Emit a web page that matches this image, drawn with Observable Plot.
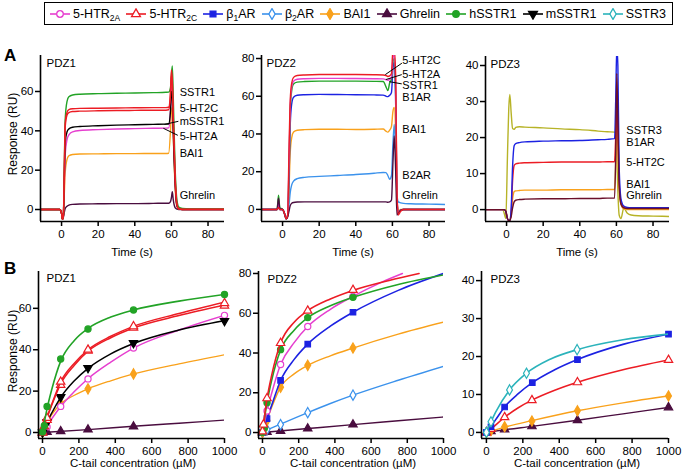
<!DOCTYPE html>
<html><head><meta charset="utf-8">
<script src="https://cdn.jsdelivr.net/npm/d3@7"></script>
<script src="https://cdn.jsdelivr.net/npm/@observablehq/plot@0.6"></script>
<style>
html,body{margin:0;padding:0;background:#fff;}
#root{position:relative;width:683px;height:475px;overflow:hidden;font-family:"Liberation Sans",Arial,Helvetica,sans-serif;color:#000;}
#root svg.panel{position:absolute;left:0;top:0;}
.lab{position:absolute;white-space:nowrap;line-height:1;transform:translate(-50%,-50%);}
.big{position:absolute;font-weight:bold;font-size:17px;line-height:1;}
#legend{position:absolute;left:44px;top:2px;width:629px;height:23px;box-sizing:border-box;border:1.5px solid #000;display:flex;align-items:center;justify-content:space-between;padding:0 6px 0 5px;font-size:12.5px;}
#legend .item{display:flex;align-items:center;white-space:nowrap;}
#legend svg{margin-right:3px;}
#legend sub{font-size:8.5px;vertical-align:-3px;line-height:0;}
</style></head><body><div id="root"><div id="legend"></div></div>
<script>
// ---------- series / legend ----------
const seriesMain = ["5-HTR","5-HTR","β","β","BAI1","Ghrelin","hSSTR1","mSSTR1","SSTR3"];
const seriesSub  = ["2A","2C","1","2","","","","",""];
const seriesTail = ["","","AR","AR","","","","",""];
const colors   = ["#e63fcf","#ec1c24","#1c22e2","#3b92ec","#f9a11b","#4a0d3f","#22a326","#000000","#2bb3bb"];
const symbols  = ["circle","triangle","square","diamond","diamond","triangle","circle","triangle","diamond"];
const filled   = [false,false,true,false,true,true,true,true,false];
const rotations= [0,0,0,0,0,0,0,180,0];
const sstr3SensorColor = "#b7b327";

// ---------- Panel A: sensorgrams (time s, response RU) ----------
const tA1 = [-11.5,-1,0,0.5,1,1.5,2,3,4,6,10,20,30,40,50,57,58.5,59.5,60,60.5,61,62,63,64,66,70,80,89];
const a1Green   = [0,0,-2,-5,-3,22,46,55,57.3,58.2,58.6,58.9,59.1,59.2,59.4,59.6,59.7,62,68,73,58,22,5,1.2,0.5,0.3,0.3,0.3];
const a1Red1    = [0,0,-2,-5,-3,20,44,49.5,50.8,51.2,51.4,51.5,51.6,51.7,51.8,51.8,52,60,71,66,48,18,3,0.5,0.2,0.2,0.2,0.2];
const a1Red2    = [0,0,-2,-5,-3,19,42,48,49.3,49.8,50,50.2,50.3,50.4,50.5,50.5,50.7,58,68,64,45,16,2.5,0.3,0,0,0,0];
const a1Black   = [0,0,-2,-5,-3,16,34,39.5,41,41.8,42.2,42.6,42.9,43.1,43.3,43.4,43.5,50,60,58,40,14,2,0.3,0,0,0,0];
const a1Magenta = [0,0,-2,-5,-3,12,28,35.5,38,39.5,40.2,40.6,40.9,41.1,41.3,41.4,41.5,50,62,60,42,15,2,0.3,0,0,0,0];
const a1Orange  = [0,0,-2,-5,-3,8,19,25.5,27.3,28,28.2,28.3,28.4,28.4,28.5,28.5,28.6,40,50,52,38,12,1.5,0.2,0,0,0,0];
const a1Ghrelin = [0,0,-2,-5,-4,-1.5,0.5,1.7,2.2,2.6,2.8,2.9,3,3,3.1,3.2,3.2,4,6,9,5,1,0.2,0,0,0,0,0];
const a1Labels  = [["SSTR1",59.3],["5-HT2C",51.4],["mSSTR1",45],["5-HT2A",37.3],["BAI1",28.4],["Ghrelin",7.3]];
const a1LabelT  = 64.5;
const a1Leaders = [[[63.6,44.8],[56.4,43.3]],[[63.3,37.8],[55.8,41.2]]];

const tA2 = [-11.5,-3,-2.2,-1.5,0,1,2,2.8,3.5,4.2,5,6,8,12,20,30,40,50,55,56.5,57.5,58.5,59.5,60.3,61,61.8,62.5,63.2,64.5,66,70,80,89];
const a2Red       = [0,0,1,0,0,-2,-5,-3,30,58,67,70,71,71.3,71.5,71.5,71.5,71.4,71.3,71,70.5,70.8,72,85,85,70,10,-3,-1,0,0,0,0];
const a2Magenta   = [0,0,3,0,0,-2,-5,-3,25,55,65,68,69,69.3,69.5,69.5,69.4,69.3,69.2,68.8,68.5,68.8,70,80,82,65,8,-2,-0.5,0,0,0,0];
const a2Green     = [0,0,7.5,1,0,-2,-5,-3,22,52,63,66.5,67.5,67.8,68,68,68,67.9,67.8,65,63,67,69,78,80,60,6,-2,-0.5,0,0,0,0];
const a2Blue      = [0,0,1,0,0,-2,-5,-3,15,45,56,59.5,60.5,60.8,61,60.9,60.8,60.7,60.6,60,59.8,60.5,62,75,78,55,5,-2,-0.5,0,0,0,0];
const a2Orange    = [0,0,1,0,0,-2,-5,-3,10,30,38,41,42,42.3,42.5,42.5,42.4,42.5,42.6,41.5,41,42,44,52,54,40,5,-1,0,0,0,0,0];
const a2LightBlue = [0,0,1,0,0,-2,-5,-3,2,9,13,15,16.3,17,17.5,18,18.5,19.2,19.6,19.5,18,16,18,35,45,30,8,4,3.5,3.2,3,2.8,2.6];
const a2Ghrelin   = [0,0,6,0.5,0,-2,-5,-4,-1,2,3.3,3.7,3.9,4,4,4,4,4,4,4,3.8,4,5,25,39,20,-3,-2,-0.5,0,0,0,0];
const a2Labels  = [["5-HT2C",78.8],["5-HT2A",71.7],["SSTR1",65.9],["B1AR",59.4],["BAI1",42.4],["B2AR",18.2],["Ghrelin",7.6]];
const a2LabelT  = 65.4;
const a2Leaders = [[[65.0,77.4],[56.3,71.6]],[[64.9,71.4],[56.6,68.9]],[[64.9,66.6],[58.5,67.7]]];

const tA3 = [-11.5,-2,-1.3,-0.4,0.5,1.2,1.8,2.5,3.3,4.2,5,7,10,20,30,40,50,55,59,59.6,60.2,60.8,61.5,62.5,64,66,68,72,80,89];
const a3Sstr3   = [0,0,-1,-2.5,15,28,32,27,22.5,22.3,22.8,23,22.9,22.7,22.4,22.2,21.8,21.6,21.5,21.4,15,5,-1.5,-2.5,0.4,-1,-1.5,-1.7,-1.8,-1.9];
const a3Blue    = [0,0,0,-0.5,-2.5,-3,-3,0,12,17.8,18.3,18.6,18.8,19,19.1,19.2,19.4,19.5,19.7,30,45,40,12,3,1,0.6,0.5,0.5,0.5,0.5];
const a3Red     = [0,0,0,-0.5,-2.5,-3,-3,-1,8,12.3,12.7,12.9,13,13.1,13.2,13.2,13.2,13.3,13.3,20,28,22,8,2,0.6,0.4,0.4,0.4,0.4,0.4];
const a3Orange  = [0,0,0,-0.5,-2.5,-3,-3,-1,3,5,5.2,5.3,5.4,5.4,5.5,5.5,5.5,5.6,5.6,12,25,18,6,1.5,0.2,0,0,0,0,0];
const a3Ghrelin = [0,0,0,-0.5,-2.5,-3,-3,-2,0.5,2.2,2.6,2.8,2.9,3,3,3.1,3.1,3.2,3.2,15,37.8,25,7,1.5,0.5,0.3,0.3,0.3,0.3,0.3];
const a3Labels  = [["SSTR3",22],["B1AR",18.6],["5-HT2C",13],["BAI1",7],["Ghrelin",3.8]];
const a3LabelT  = 65.4;

// ---------- Panel B: binding (C-tail µM, response RU) ----------
// measured points
const b1Green   = [[0,0.3],[10,3.3],[25,12.6],[100,35.5],[250,50],[500,59.2],[1000,66.7]];
const b1Red1    = [[0,0],[10,3],[25,7],[100,24.5],[250,40],[500,51.3],[1000,62.5]];
const b1Red2    = [[0,0],[25,6],[100,23],[250,39.5],[500,50.6],[1000,61.3]];
const b1Black   = [[0,0],[25,5],[100,17.1],[250,31.2],[500,43.2],[1000,53.9]];
const b1Magenta = [[0,0],[25,2.7],[100,12.6],[250,25.9],[500,40.8],[1000,56.6]];
const b1Orange  = [[0,0],[25,5],[100,13.9],[250,21.1],[500,28.3]];
const b1Ghrelin = [[0,0],[25,0.2],[100,0.6],[250,1.4],[500,2.9]];
// fitted curves as read
const f1Green   = [[0,0],[10,4.8],[25,11.5],[50,20.5],[100,34.5],[175,44.5],[250,50.3],[375,55.8],[500,59.2],[750,63.5],[1000,66.7]];
const f1Red1    = [[0,0],[25,7.5],[50,13.5],[100,24.5],[175,33.5],[250,40],[375,46.5],[500,51.3],[750,57.5],[1000,63]];
const f1Red2    = [[0,0],[25,7],[50,13],[100,23.5],[175,32.5],[250,39.3],[375,45.8],[500,50.5],[750,56.5],[1000,61.5]];
const f1Black   = [[0,0],[25,5],[50,9.3],[100,17],[175,25],[250,31],[375,38],[500,43],[750,49.5],[1000,54]];
const f1Magenta = [[0,0],[25,3.2],[50,6.5],[100,12.6],[175,19.8],[250,26],[375,34],[500,40.8],[750,49.5],[1000,56.6]];
const f1Orange  = [[0,0],[25,4.8],[50,8.5],[100,13.9],[175,18],[250,21.1],[375,25],[500,28.3],[750,33.2],[1000,37.6]];
const f1Ghrelin = [[0,0],[250,1.4],[500,3],[750,4.5],[1000,6]];

const b2Red       = [[0,0.5],[5,4],[25,17.2],[100,45],[250,61.3],[500,71.7]];
const b2Green     = [[0,0],[10,2],[25,15],[100,41.7],[250,57.8],[500,68]];
const b2Magenta   = [[0,0],[25,10.8],[100,34.2],[250,53.3],[500,68.5]];
const b2Blue      = [[0,0],[25,7],[100,26.2],[250,44.5],[500,60.5]];
const b2Orange    = [[0,0],[25,6],[100,22.8],[250,33.8],[500,42.5]];
const b2LightBlue = [[0,0],[25,1.5],[100,4],[250,10],[500,18.8]];
const b2Ghrelin   = [[0,0],[25,0.3],[100,0.8],[250,2],[500,4]];
const f2Red       = [[0,0],[25,17],[50,28.5],[100,45],[175,55.5],[250,61.3],[375,67.2],[500,71.5],[700,76.5],[865,80]];
const f2Green     = [[0,0],[25,15],[50,26],[100,41.5],[175,51.5],[250,57.8],[375,63.8],[500,68],[750,74.5],[1000,79.3]];
const f2Magenta   = [[0,0],[25,10.8],[50,19.5],[100,34.2],[175,45.2],[250,53.3],[375,62],[500,68.5],[650,75.3],[773,80]];
const f2Blue      = [[0,0],[25,7],[50,13.5],[100,26.2],[175,36.8],[250,44.5],[375,53.5],[500,60.5],[750,71.5],[1000,80]];
const f2Orange    = [[0,0],[25,6.5],[50,12.5],[100,22.8],[175,29.5],[250,33.8],[375,38.6],[500,42.5],[750,49.5],[1000,55.5]];
const f2LightBlue = [[0,0],[25,1.2],[100,4.2],[250,10],[375,14.6],[500,18.8],[750,26.3],[1000,33.3]];
const f2Ghrelin   = [[0,0],[250,2],[500,4],[750,5.9],[1000,7.8]];

const b3Teal    = [[0,0],[25,2.8],[127,11.2],[220,15.6],[498,21.8]];
const b3Blue    = [[0,0],[25,1.5],[100,6.7],[252,13.1],[500,19.2],[1000,25.9]];
const b3Red     = [[0,0],[25,0.9],[100,4],[250,8.5],[500,13.2],[1000,19.1]];
const b3Orange  = [[0,0],[25,0.5],[100,1.5],[250,3],[500,5.7],[1000,9.6]];
const b3Ghrelin = [[0,0],[25,0.3],[100,0.8],[250,1.6],[500,3.2],[1000,6.6]];
const f3Teal    = [[0,0],[25,2.8],[50,5.3],[127,11.2],[220,15.6],[350,19.3],[498,21.8],[750,24.4],[1000,25.9]];
const f3Blue    = [[0,0],[25,1.6],[50,3.3],[100,6.7],[175,10.2],[252,13.1],[375,16.5],[500,19.2],[750,23.2],[1000,25.9]];
const f3Red     = [[0,0],[25,0.9],[100,4],[175,6.5],[250,8.5],[375,11.1],[500,13.2],[750,16.5],[1000,19.1]];
const f3Orange  = [[0,0],[100,1.4],[250,3.1],[500,5.7],[750,7.8],[1000,9.6]];
const f3Ghrelin = [[0,0],[100,0.7],[250,1.6],[500,3.2],[750,4.9],[1000,6.6]];

const timeTicks = [0,20,40,60,80];
const concTicks = [0,200,400,600,800,1000];

// ---------- helpers ----------
const FONT = '"Liberation Sans", Arial, Helvetica, sans-serif';
const NARROW = '"Liberation Sans Narrow", "Liberation Sans", Arial, sans-serif';
const W = 683, H = 475;
const root = document.getElementById("root");

function line(data, color, sw, curve = "monotone-x") {
  return Plot.line(data, {x: d => d[0], y: d => d[1], stroke: color, strokeWidth: sw, curve, clip: true});
}
function sens(t, v, color, sw = 1.4) {
  return line(t.map((x, i) => [x, v[i]]), color, sw);
}
function dots(data, k) {
  return Plot.dot(data, {x: d => d[0], y: d => d[1], symbol: symbols[k], r: 3.1, rotate: rotations[k],
    fill: filled[k] ? colors[k] : "white", stroke: colors[k], strokeWidth: 1.2});
}
function curveLabels(labels, t, leaders) {
  const marks = [Plot.text(labels, {x: () => t, y: d => d[1], text: d => d[0], textAnchor: "start",
    fontSize: 11, fontFamily: NARROW, fill: "#000"})];
  (leaders || []).forEach(l => marks.push(Plot.line(l, {x: d => d[0], y: d => d[1], stroke: "#000", strokeWidth: 1})));
  return marks;
}
function panel(cfg) {
  const svg = Plot.plot({
    width: W, height: H,
    marginLeft: cfg.left, marginRight: W - cfg.right, marginTop: cfg.top, marginBottom: H - cfg.bottom,
    x: {domain: cfg.xd}, y: {domain: cfg.yd},
    style: {background: "transparent", fontFamily: FONT, fontSize: "11.5px", color: "#000", overflow: "visible"},
    marks: [
      ...cfg.marks,
      Plot.text([cfg.name], {frameAnchor: "top-left", dx: cfg.dx, dy: cfg.dy, text: d => d, fontSize: 11.5, fontFamily: NARROW, fill: "#000"}),
      Plot.ruleX([cfg.xd[0]], {stroke: "#000", strokeWidth: 1.6}),
      Plot.ruleY([cfg.yd[0]], {stroke: "#000", strokeWidth: 1.6}),
      Plot.axisX({ticks: cfg.xt, tickSize: 5, tickPadding: 3, tickFormat: d => `${d}`, label: null, strokeWidth: 1.5, fontSize: 11.5}),
      Plot.axisY({ticks: cfg.yt, tickSize: 5, tickPadding: 2, tickFormat: d => `${d}`, label: null, strokeWidth: 1.5, fontSize: 11.5})
    ]
  });
  svg.classList.add("panel");
  root.appendChild(svg);
}
function html(cls, text, x, y, extra = "") {
  const d = document.createElement("div");
  d.className = cls; d.textContent = text;
  d.style.cssText += `left:${x}px;top:${y}px;` + extra;
  root.appendChild(d);
}

// ---------- top row ----------
panel({name: "PDZ1", left: 40, right: 224, top: 55, bottom: 221, xd: [-11.5, 89], yd: [-6.1, 78.3],
  xt: timeTicks, yt: [0,20,40,60], dx: 6, dy: 3,
  marks: [
    sens(tA1, a1Ghrelin, colors[5]), sens(tA1, a1Orange, colors[4]), sens(tA1, a1Magenta, colors[0]),
    sens(tA1, a1Black, colors[7]), sens(tA1, a1Green, colors[6]), sens(tA1, a1Red2, colors[1]), sens(tA1, a1Red1, colors[1]),
    ...curveLabels(a1Labels, a1LabelT, a1Leaders)
  ]});
panel({name: "PDZ2", left: 261, right: 445, top: 55, bottom: 221, xd: [-11.5, 89], yd: [-6.4, 81.6],
  xt: timeTicks, yt: [0,20,40,60,80], dx: 5, dy: 3,
  marks: [
    sens(tA2, a2LightBlue, colors[3]), sens(tA2, a2Orange, colors[4]), sens(tA2, a2Blue, colors[2]),
    sens(tA2, a2Green, colors[6]), sens(tA2, a2Magenta, colors[0]), sens(tA2, a2Ghrelin, colors[5]), sens(tA2, a2Red, colors[1]),
    ...curveLabels(a2Labels, a2LabelT, a2Leaders)
  ]});
panel({name: "PDZ3", left: 485, right: 669, top: 56, bottom: 221, xd: [-11.5, 89], yd: [-3.3, 42.5],
  xt: timeTicks, yt: [0,10,20,30,40], dx: 5, dy: 3,
  marks: [
    sens(tA3, a3Sstr3, sstr3SensorColor), sens(tA3, a3Orange, colors[4]), sens(tA3, a3Red, colors[1]),
    sens(tA3, a3Blue, colors[2]), sens(tA3, a3Ghrelin, "#6a0f2a"),
    ...curveLabels(a3Labels, a3LabelT)
  ]});

// ---------- bottom row ----------
panel({name: "PDZ1", left: 38, right: 224, top: 271, bottom: 438, xd: [-22, 1000], yd: [-2.9, 77.8],
  xt: concTicks, yt: [0,20,40,60], dx: 8, dy: 2,
  marks: [
    line(f1Ghrelin, colors[5], 1.4), dots(b1Ghrelin, 5),
    line(f1Orange, colors[4], 1.3), dots(b1Orange, 4),
    line(f1Magenta, colors[0], 1.5), dots(b1Magenta, 0),
    line(f1Black, colors[7], 1.5), dots(b1Black, 7),
    line(f1Red2, colors[1], 1.5), dots(b1Red2, 1),
    line(f1Red1, colors[1], 1.5), dots(b1Red1, 1),
    line(f1Green, colors[6], 1.6), dots(b1Green, 6)
  ]});
panel({name: "PDZ2", left: 258, right: 443, top: 271, bottom: 438, xd: [-22, 1000], yd: [-3, 81],
  xt: concTicks, yt: [0,20,40,60,80], dx: 9, dy: 3,
  marks: [
    line(f2Ghrelin, colors[5], 1.4), dots(b2Ghrelin, 5),
    line(f2LightBlue, colors[3], 1.4), dots(b2LightBlue, 3),
    line(f2Orange, colors[4], 1.4), dots(b2Orange, 4),
    line(f2Blue, colors[2], 1.6), dots(b2Blue, 2),
    line(f2Magenta, colors[0], 1.5), dots(b2Magenta, 0),
    line(f2Green, colors[6], 1.6), dots(b2Green, 6),
    line(f2Red, colors[1], 1.6), dots(b2Red, 1)
  ]});
panel({name: "PDZ3", left: 481, right: 668, top: 271, bottom: 438, xd: [-27, 1000], yd: [-1.6, 42.4],
  xt: concTicks, yt: [0,10,20,30,40], dx: 9, dy: 3,
  marks: [
    line(f3Ghrelin, colors[5], 1.4), dots(b3Ghrelin, 5),
    line(f3Orange, colors[4], 1.4), dots(b3Orange, 4),
    line(f3Red, colors[1], 1.5), dots(b3Red, 1),
    line(f3Blue, colors[2], 1.6), dots(b3Blue, 2),
    line(f3Teal, colors[8], 1.6), dots(b3Teal, 8)
  ]});

// ---------- text outside the plots ----------
html("big", "A", 4, 47);
html("big", "B", 4, 260);
[132, 353, 577].forEach(x => html("lab", "Time (s)", x, 253, "font-size:11.5px;"));
[133, 353, 577].forEach(x => html("lab", "C-tail concentration (µM)", x, 464, "font-size:11.5px;"));
[134, 351].forEach(y => html("lab", "Response (RU)", 13, y, "font-size:12px;transform:translate(-50%,-50%) rotate(-90deg);"));

// ---------- legend ----------
const legend = document.getElementById("legend");
const symMap = {circle: d3.symbolCircle, triangle: d3.symbolTriangle, square: d3.symbolSquare, diamond: d3.symbolDiamond};
seriesMain.forEach((m, i) => {
  const item = document.createElement("span");
  item.className = "item";
  const path = d3.symbol(symMap[symbols[i]], 34)();
  item.innerHTML =
    `<svg width="20" height="12" viewBox="0 0 20 12"><line x1="0" x2="20" y1="6" y2="6" stroke="${colors[i]}" stroke-width="1.6"/>` +
    `<path d="${path}" transform="translate(10,6) rotate(${rotations[i]})" fill="${filled[i] ? colors[i] : "white"}" stroke="${colors[i]}" stroke-width="1.3"/></svg>`;
  const lab = document.createElement("span");
  lab.textContent = m;
  if (seriesSub[i]) { const s = document.createElement("sub"); s.textContent = seriesSub[i]; lab.appendChild(s); }
  if (seriesTail[i]) lab.appendChild(document.createTextNode(seriesTail[i]));
  item.appendChild(lab);
  legend.appendChild(item);
});
</script></body></html>
